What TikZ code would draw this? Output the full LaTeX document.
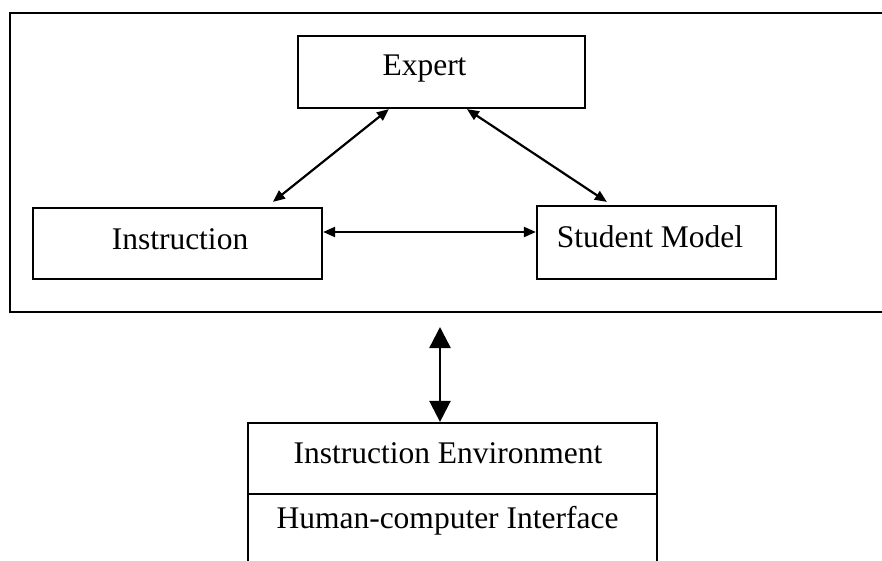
\documentclass[tikz,border=0pt]{standalone}
\usepackage{fontspec}
\setmainfont{Liberation Serif}
\usetikzlibrary{arrows.meta}

\tikzset{
  box/.style={draw, line width=2.2pt, rectangle, inner sep=0pt, minimum width=#1},
  lbl/.style={anchor=base, inner sep=0pt, font=\fontsize{31.5}{36}\selectfont},
  link/.style={line width=2.2pt, {Triangle[length=12pt,width=10pt]}-{Triangle[length=12pt,width=10pt]}},
  biglink/.style={line width=2.4pt, {Triangle[length=21pt,width=21pt]}-{Triangle[length=21pt,width=21pt]}}
}

\begin{document}
\begin{tikzpicture}[x=1pt,y=-1pt]
  \useasboundingbox (0,0) rectangle (882,561);
  \clip (0,0) rectangle (882,561);
  \fill[white] (0,0) rectangle (882,561);

  % enclosing frame of the tutoring system
  \node[box=876pt, minimum height=299pt, line width=2.6pt] (outer) at (448,162.5) {};

  % the three modules
  \node[box=287pt, minimum height=72pt] (expert)  at (441.5,72)   {};
  \node[box=289pt, minimum height=71pt] (instr)   at (177.5,243.5) {};
  \node[box=239pt, minimum height=73pt] (student) at (656.5,242.5) {};

  \node[lbl] (texpert)  at (424.5,76) {Expert};
  \node[lbl] (tinstr)   at (180,249)  {Instruction};
  \node[lbl] (tstudent) at (650,247)  {Student Model};

  % environment / interface stack
  \node[box=409pt, minimum height=71pt]  (env) at (452.5,458.5) {};
  \node[box=409pt, minimum height=106pt] (hci) at (452.5,547)   {};

  \node[lbl] (tenv) at (448,463)   {Instruction Environment};
  \node[lbl] (thci) at (447.5,528) {Human-computer Interface};

  % links between the modules
  \draw[link] ([xshift=92pt]expert.south west) -- ([xshift=241pt,yshift=5pt]instr.north west);
  \draw[link] ([xshift=170pt]expert.south west) -- ([xshift=71pt,yshift=3pt]student.north west);
  \draw[link] ([yshift=11.5pt]instr.east) -- ([yshift=10.5pt]student.west);

  % link between the system and its environment
  \coordinate (up) at (440,327);
  \draw[biglink] (up) -- ([xshift=-12.5pt]env.north);
\end{tikzpicture}
\end{document}
